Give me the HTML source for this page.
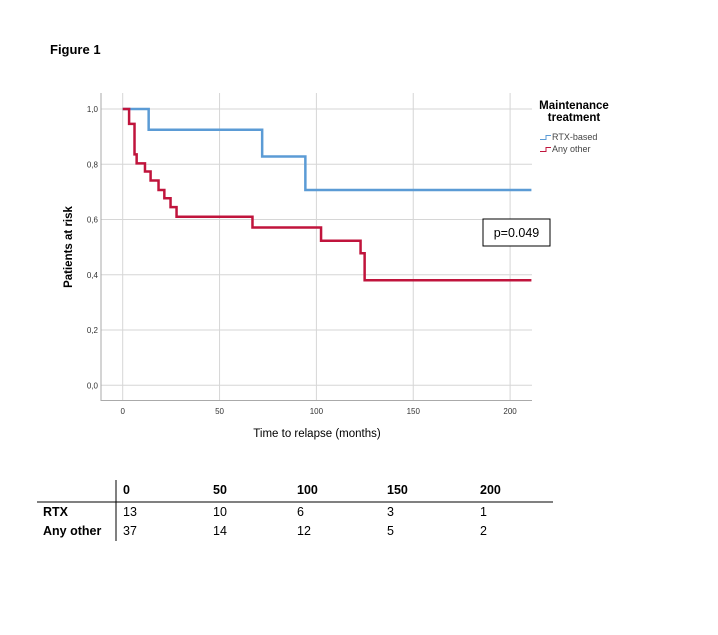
<!DOCTYPE html>
<html><head><meta charset="utf-8"><style>
body{margin:0;background:#fff;font-family:"Liberation Sans",sans-serif;}
svg{display:block}
</style></head><body>
<svg id="c" width="718" height="635">
<text x="50" y="54" font-size="13" font-weight="bold">Figure 1</text>
<g id="grid"></g><g id="series"></g>
<g>
<text x="574" y="109" font-size="11.5" font-weight="bold" text-anchor="middle">Maintenance</text>
<text x="574" y="121" font-size="11.5" font-weight="bold" text-anchor="middle">treatment</text>
<path d="M540 139.5h6v-4h5" stroke="#5b9bd5" fill="none"/>
<text x="552" y="140" font-size="9" fill="#444">RTX-based</text>
<path d="M540 151.5h6v-4h5" stroke="#c0143c" fill="none"/>
<text x="552" y="152" font-size="9" fill="#444">Any other</text>
</g>
<rect x="483" y="219" width="67" height="27" fill="#fff" stroke="#000"/>
<text x="516.5" y="237" font-size="12.5" text-anchor="middle">p=0.049</text>
<text x="317" y="437" font-size="11.5" text-anchor="middle">Time to relapse (months)</text>
<text transform="translate(72,247) rotate(-90)" font-size="11.5" font-weight="bold" text-anchor="middle">Patients at risk</text>
<g id="table" font-size="12.5"></g>
</svg>
<script>
const xTicks=[0,50,100,150,200];
const yTicks=[0,0.2,0.4,0.6,0.8,1.0];
const yTickLabels=["0,0","0,2","0,4","0,6","0,8","1,0"];
const rtxTimes=[0,13.4,72,94.3,211];
const rtxSurv=[1,0.925,0.828,0.707,0.707];
const otherTimes=[0,3.3,6.1,7.2,11.5,14.4,18.5,21.5,24.7,27.8,67,102.4,122.8,124.9,211];
const otherSurv=[1,0.946,0.836,0.803,0.774,0.741,0.707,0.677,0.645,0.61,0.571,0.523,0.478,0.38,0.38];
const riskCols=["0","50","100","150","200"];
const riskRtx=[13,10,6,3,1];
const riskOther=[37,14,12,5,2];
const NS="http://www.w3.org/2000/svg";
const X=t=>122.7+t*1.937, Y=v=>385.3-v*276.3;
function mk(tag,attrs,parent){const e=document.createElementNS(NS,tag);for(const k in attrs)e.setAttribute(k,attrs[k]);parent.appendChild(e);return e;}
const g=document.getElementById('grid');
xTicks.forEach((t,i)=>{
 const l=mk('line',{x1:X(t),x2:X(t),y1:93,y2:400,stroke:'#d6d6d6'},g);
 
 
 const tx=mk('text',{x:X(t),y:414,'font-size':8,'text-anchor':'middle',fill:'#333'},g);tx.textContent=t;
 
 
});
yTicks.forEach((v,i)=>{
 const l=mk('line',{x1:101,x2:532,y1:Y(v),y2:Y(v),stroke:'#d6d6d6'},g);
 
 
 const tx=mk('text',{x:98,y:Y(v)+3,'font-size':8,'text-anchor':'end',fill:'#333'},g);tx.textContent=yTickLabels[i];
 
 
});
const ax=mk('path',{d:'M101 93V400.5H532',stroke:'#aaa',fill:'none'},g);


function step(ts,ss){let d='M'+X(ts[0])+' '+Y(ss[0]);for(let i=1;i<ts.length;i++){d+='H'+X(ts[i])+'V'+Y(ss[i]);}return d;}
const s=document.getElementById('series');
const p1=mk('path',{d:step(rtxTimes,rtxSurv),stroke:'#5b9bd5','stroke-width':2.5,fill:'none'},s);


const p2=mk('path',{d:step(otherTimes,otherSurv),stroke:'#c0143c','stroke-width':2.5,fill:'none'},s);


const tb=document.getElementById('table');
const colX=[123,213,297,387,480];
mk('line',{x1:116,x2:116,y1:480,y2:541,stroke:'#000'},tb);
mk('line',{x1:37,x2:553,y1:502,y2:502,stroke:'#000'},tb);
riskCols.forEach((c,i)=>{
 const h=mk('text',{x:colX[i],y:494,'font-weight':'bold'},tb);h.textContent=c;
 
 
 const a=mk('text',{x:colX[i],y:516},tb);a.textContent=riskRtx[i];
 
 
 const b=mk('text',{x:colX[i],y:535},tb);b.textContent=riskOther[i];
 
 
});
const r1=mk('text',{x:43,y:516,'font-weight':'bold'},tb);r1.textContent='RTX';


const r2=mk('text',{x:43,y:535,'font-weight':'bold'},tb);r2.textContent='Any other';


</script>
</body></html>
